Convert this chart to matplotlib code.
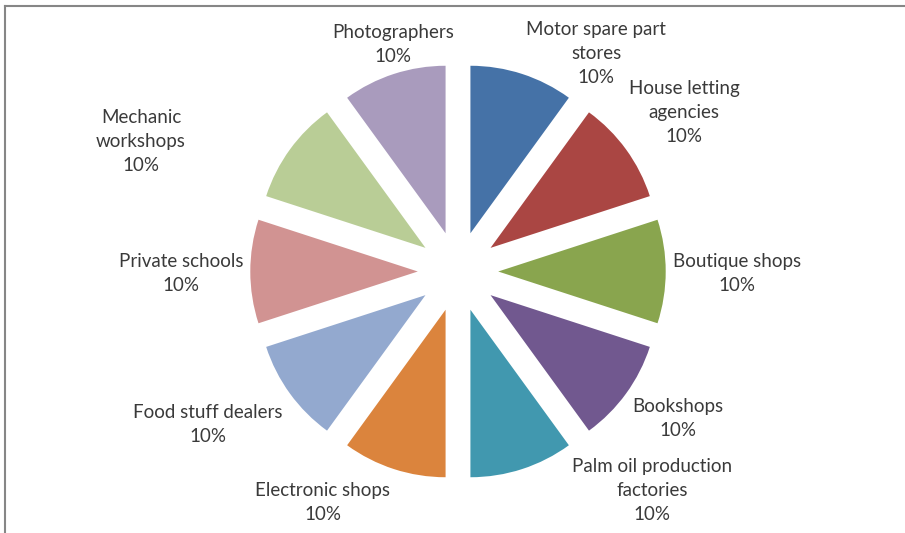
import matplotlib.pyplot as plt
from matplotlib.lines import Line2D

categories = ["Motor spare part\nstores", "House letting\nagencies", "Boutique shops",
              "Bookshops", "Palm oil production\nfactories", "Electronic shops",
              "Food stuff dealers", "Private schools", "Mechanic\nworkshops",
              "Photographers"]
shares = [10, 10, 10, 10, 10, 10, 10, 10, 10, 10]
colors = ["#4572A7", "#AA4643", "#89A54E", "#71588F", "#4198AF",
          "#DB843D", "#93A9CF", "#D19392", "#B9CD96", "#A99BBD"]

# label centres (data units, pie radius = 1)
label_pos = [(0.824, 1.304), (1.349, 0.952), (1.666, -0.009), (1.313, -0.875),
             (1.158, -1.310), (-0.806, -1.382), (-1.493, -0.916), (-1.654, -0.009),
             (-1.893, 0.779), (-0.388, 1.358)]

fig = plt.figure(figsize=(9.05, 5.33), dpi=100)
ax = fig.add_axes([0, 0, 1, 1])

scale = 167.5
cx, cy = 458, 271.5
ax.pie(shares, colors=colors, startangle=90, counterclock=False,
       explode=[0.24] * len(shares), wedgeprops=dict(linewidth=0))

for name, val, (x, y) in zip(categories, shares, label_pos):
    ax.text(x, y, f"{name}\n{val}%", ha="center", va="center", fontsize=13.5,
            family="Lato", color="#3a3a3a", linespacing=1.5)

ax.set_xlim(-cx / scale, (905 - cx) / scale)
ax.set_ylim(-(533 - cy) / scale, cy / scale)
ax.set_aspect("auto")
ax.axis("off")

# chart frame (left and top edges visible)
fig.add_artist(Line2D([5 / 905, 5 / 905], [0, 1 - 6 / 533], color="#868686", lw=1.5,
                      transform=fig.transFigure))
fig.add_artist(Line2D([5 / 905, 1], [1 - 6 / 533, 1 - 6 / 533], color="#868686", lw=1.5,
                      transform=fig.transFigure))

fig.savefig("out.png", dpi=100)
